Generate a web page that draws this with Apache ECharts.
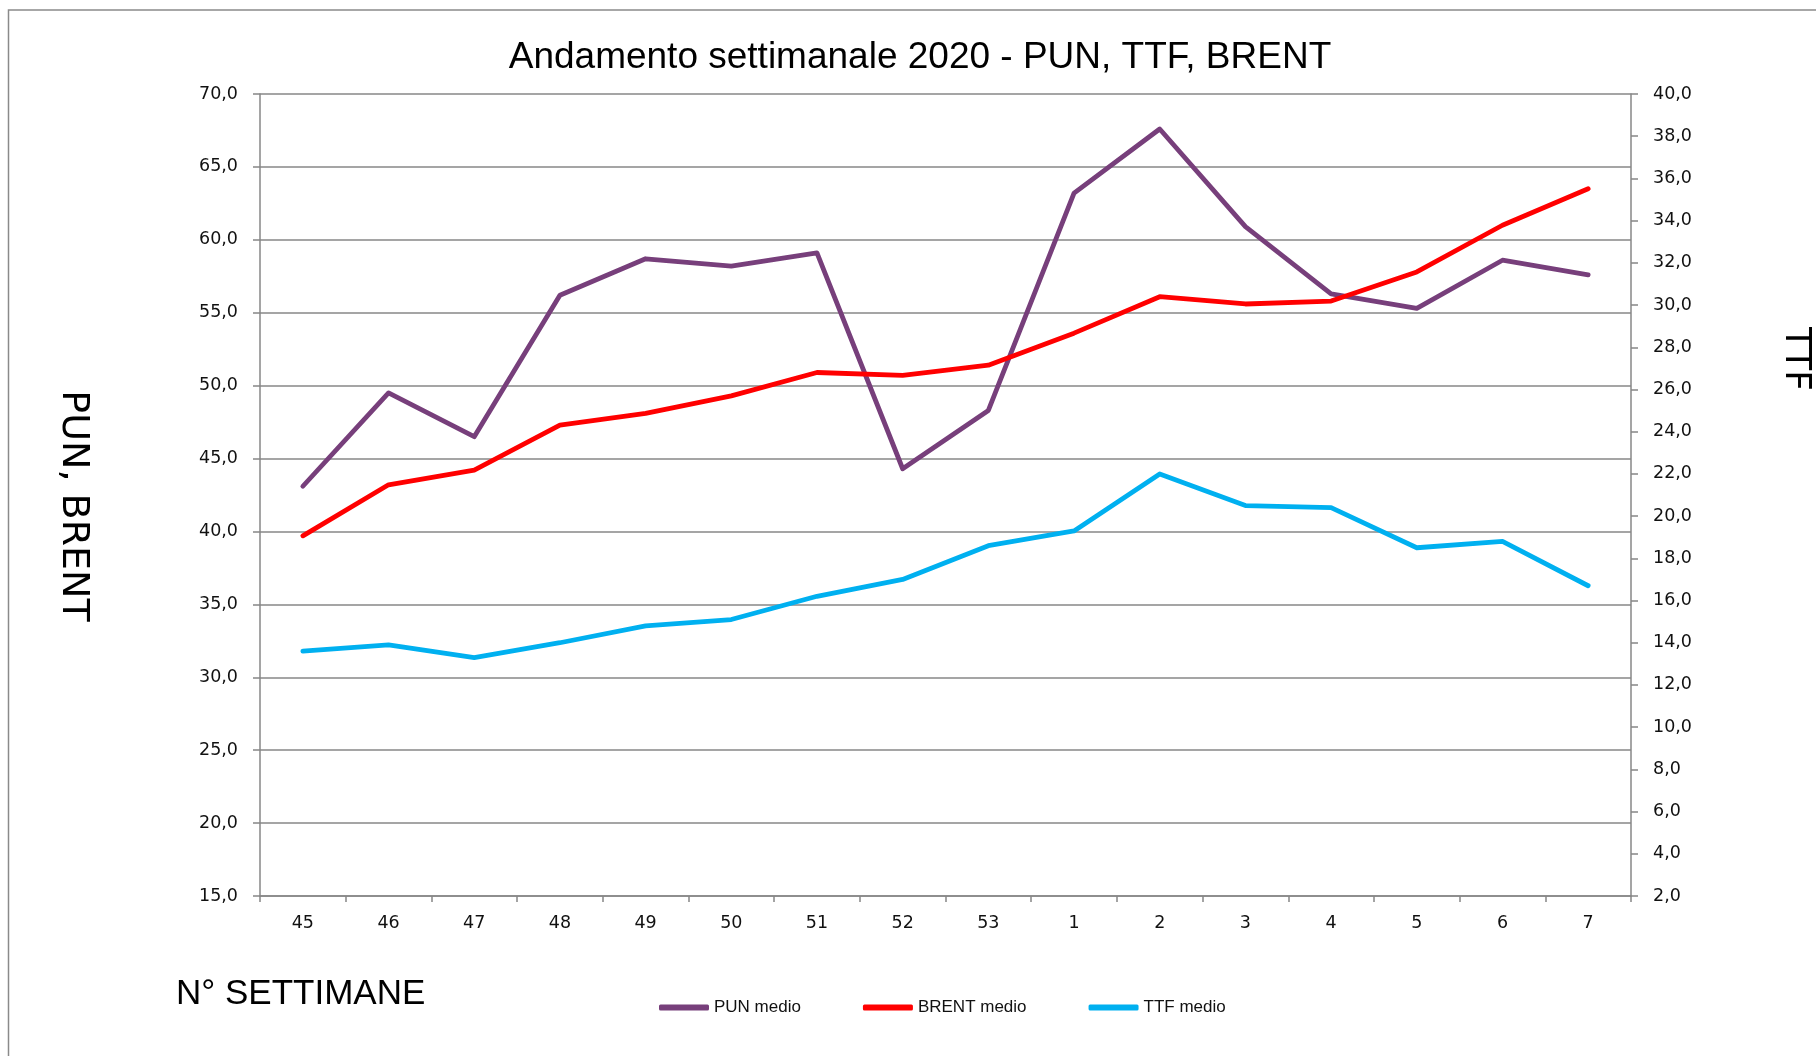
<!DOCTYPE html>
<html>
<head>
<meta charset="utf-8">
<script src="https://cdn.jsdelivr.net/npm/echarts@6/dist/echarts.min.js"></script>
<style>
html,body{margin:0;padding:0;background:#fff;}
#chart{width:1816px;height:1056px;}
</style>
</head>
<body>
<div id="chart"></div>
<script>
const weeks = ['45','46','47','48','49','50','51','52','53','1','2','3','4','5','6','7'];
const punMedio = [43.1, 49.5, 46.5, 56.2, 58.7, 58.2, 59.1, 44.3, 48.3, 63.2, 67.6, 60.9, 56.3, 55.3, 58.6, 57.6];
const brentMedio = [39.7, 43.2, 44.2, 47.3, 48.1, 49.3, 50.9, 50.7, 51.4, 53.6, 56.1, 55.6, 55.8, 57.8, 61.0, 63.5];
const ttfMedio = [13.6, 13.9, 13.3, 14.0, 14.8, 15.1, 16.2, 17.0, 18.6, 19.3, 22.0, 20.5, 20.4, 18.5, 18.8, 16.7];
const seriesNames = ['PUN medio', 'BRENT medio', 'TTF medio'];
const titleText = 'Andamento settimanale 2020 - PUN, TTF, BRENT';
const leftAxisTitle = 'PUN, BRENT';
const rightAxisTitle = 'TTF';
const xAxisTitle = 'N° SETTIMANE';

const gray = '#878787';
const fmt = v => v.toFixed(1).replace('.', ',');
const tickFont = {fontFamily: 'DejaVu Sans', fontSize: 17.5, color: '#111'};

const chart = echarts.init(document.getElementById('chart'), null, {renderer: 'canvas'});
chart.setOption({
  backgroundColor: '#fff',
  animation: false,
  grid: {left: 260, right: 185, top: 94, bottom: 160, containLabel: false},
  legend: {
    data: seriesNames,
    left: 654, top: 994,
    icon: 'roundRect',
    itemWidth: 50, itemHeight: 6,
    itemGap: 62,
    textStyle: {fontFamily: 'Liberation Sans', fontSize: 17, color: '#111'}
  },
  xAxis: {
    type: 'category',
    data: weeks,
    boundaryGap: true,
    axisLine: {show: true, lineStyle: {color: gray, width: 1.5}},
    axisTick: {show: true, length: 6, interval: 0, alignWithLabel: false, lineStyle: {color: gray, width: 1.5}},
    axisLabel: Object.assign({margin: 18, interval: 0}, tickFont),
    splitLine: {show: false}
  },
  yAxis: [
    {
      type: 'value', position: 'left', min: 15, max: 70, interval: 5,
      axisLine: {show: true, lineStyle: {color: gray, width: 1.5}},
      axisTick: {show: true, length: 7, inside: false, lineStyle: {color: gray, width: 1.5}},
      axisLabel: Object.assign({margin: 22, formatter: fmt}, tickFont),
      splitLine: {show: true, lineStyle: {color: gray, width: 1.5}}
    },
    {
      type: 'value', position: 'right', min: 2, max: 40, interval: 2,
      axisLine: {show: true, lineStyle: {color: gray, width: 1.5}},
      axisTick: {show: true, length: 7, inside: false, lineStyle: {color: gray, width: 1.5}},
      axisLabel: Object.assign({margin: 22, formatter: fmt}, tickFont),
      splitLine: {show: false}
    }
  ],
  series: [
    {name: seriesNames[0], type: 'line', yAxisIndex: 0, data: punMedio, symbol: 'none', color: '#773F7B',
     lineStyle: {width: 4.8, color: '#773F7B', cap: 'round', join: 'round'}},
    {name: seriesNames[1], type: 'line', yAxisIndex: 0, data: brentMedio, symbol: 'none', color: '#FF0000',
     lineStyle: {width: 4.8, color: '#FF0000', cap: 'round', join: 'round'}},
    {name: seriesNames[2], type: 'line', yAxisIndex: 1, data: ttfMedio, symbol: 'none', color: '#00B0F0',
     lineStyle: {width: 4.8, color: '#00B0F0', cap: 'round', join: 'round'}}
  ],
  graphic: [
    {type: 'rect', silent: true, z: -10, shape: {x: 8.5, y: 10, width: 3000, height: 3000},
     style: {fill: 'none', stroke: '#8a8a8a', lineWidth: 1.5}},
    {type: 'text', x: 920, y: 57.5, style: {text: titleText, font: '37px "Liberation Sans"', fill: '#000', align: 'center', verticalAlign: 'middle'}},
    {type: 'text', x: 73, y: 506, rotation: -Math.PI / 2, style: {text: leftAxisTitle, font: '38px "DejaVu Sans"', fill: '#000', align: 'center', verticalAlign: 'middle'}},
    {type: 'text', x: 1795, y: 359, rotation: -Math.PI / 2, style: {text: rightAxisTitle, font: '36px "DejaVu Sans"', fill: '#000', align: 'center', verticalAlign: 'middle'}},
    {type: 'text', x: 176, y: 994.5, style: {text: xAxisTitle, font: '35px "Liberation Sans"', fill: '#000', align: 'left', verticalAlign: 'middle'}}
  ]
});
</script>
</body>
</html>
